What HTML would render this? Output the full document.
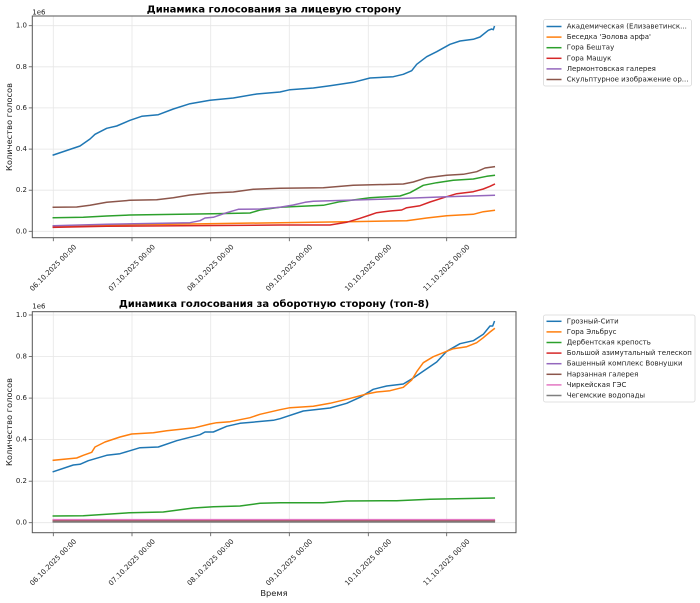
<!DOCTYPE html>
<html><head><meta charset="utf-8"><style>
html,body{margin:0;padding:0;background:#fff;}
svg{display:block;}
text{font-family:"DejaVu Sans","Liberation Sans",sans-serif;fill:#222;}
.tk{font-size:7px;}
.lg{font-size:7px;}
.lab{font-size:8.3px;}
.ttl{font-size:10px;font-weight:bold;fill:#000;}
.grid{stroke:#e6e6e6;stroke-width:0.8;}
.sp{stroke:#555;stroke-width:1;fill:none;}
.tm{stroke:#555;stroke-width:0.8;}
.ln{fill:none;stroke-width:1.5;stroke-linejoin:round;stroke-linecap:square;}
</style></head><body>
<svg width="700" height="603" viewBox="0 0 700 603" xmlns="http://www.w3.org/2000/svg">
<rect x="0" y="0" width="700" height="603" fill="#fff"/>

<!-- ============ TOP CHART ============ -->
<g>
<g class="grid">
<line x1="53.3" y1="16" x2="53.3" y2="237.7"/>
<line x1="132" y1="16" x2="132" y2="237.7"/>
<line x1="210.7" y1="16" x2="210.7" y2="237.7"/>
<line x1="289.3" y1="16" x2="289.3" y2="237.7"/>
<line x1="368.3" y1="16" x2="368.3" y2="237.7"/>
<line x1="446.7" y1="16" x2="446.7" y2="237.7"/>
<line x1="32.3" y1="231.3" x2="516" y2="231.3"/>
<line x1="32.3" y1="190.2" x2="516" y2="190.2"/>
<line x1="32.3" y1="149.1" x2="516" y2="149.1"/>
<line x1="32.3" y1="107.9" x2="516" y2="107.9"/>
<line x1="32.3" y1="66.8" x2="516" y2="66.8"/>
<line x1="32.3" y1="25.7" x2="516" y2="25.7"/>
</g>
<polyline class="ln" stroke="#1f77b4" points="53.3,155 80,146 90,139 95,134.3 106.7,128.3 116.7,126 130,120.3 141.7,116.3 158.3,114.7 173.3,109 190,103.7 210,100.3 233.3,98 256.7,94 280,92 290,89.7 313.3,88 330,85.7 353.3,82.3 370,78 393.3,76.7 403.3,74.3 411.7,70.7 416.7,64.3 426.7,56.7 436.7,51.7 450,44.3 460,41 473.3,39.3 480,37 488.3,30.3 491.7,29 493.3,29.7 494.3,26.7"/>
<polyline class="ln" stroke="#ff7f0e" points="53.3,226.3 106.7,225 190,224 280,222.7 346.7,221.7 406.7,220.7 426.7,218 446.7,215.7 473.3,214.3 483.3,211.7 494.3,210.3"/>
<polyline class="ln" stroke="#2ca02c" points="53.3,217.7 83.3,217.3 106.7,216 130,215 180,214.3 213.3,213.7 250,213 260,210 280,207.3 323.3,205.3 340,201.7 370,197.7 400,196 410,192.7 423.3,185.3 436.7,182.7 453.3,180.3 473.3,179 486.7,176.3 494.3,175.3"/>
<polyline class="ln" stroke="#d62728" points="53.3,227.3 106.7,226.3 280,225 330,225 346.7,222.3 360,218.3 370,215 376.7,212.7 390,211 401.7,210 406.7,207.7 420,205.7 430,202 446.7,196.7 456.7,193.7 473.3,191.7 483.3,189 490,186.3 494.3,184.3"/>
<polyline class="ln" stroke="#9467bd" points="53.3,225.7 106.7,224.3 190,222.7 200,220.7 205,218 213.3,217.3 226.7,212.7 238.3,209.3 260,209 280,207.3 293.3,205 305,202.3 313.3,201.3 380,199.3 420,197.7 446.7,196.7 494.3,195.3"/>
<polyline class="ln" stroke="#8c564b" points="53.3,207.3 76.7,207 90,205.3 106.7,202.3 130,200.3 156.7,199.7 173.3,197.7 190,195 210,193 233.3,192 253.3,189.3 280,188.3 323.3,187.7 353.3,185.3 403.3,184 413.3,182 426.7,177.7 446.7,175.3 463.3,174.3 476.7,171.7 485,168 494.3,166.7"/>
<rect class="sp" x="32.3" y="16" width="483.7" height="221.7"/>
<g class="tm">
<line x1="28.8" y1="231.3" x2="32.3" y2="231.3"/>
<line x1="28.8" y1="190.2" x2="32.3" y2="190.2"/>
<line x1="28.8" y1="149.1" x2="32.3" y2="149.1"/>
<line x1="28.8" y1="107.9" x2="32.3" y2="107.9"/>
<line x1="28.8" y1="66.8" x2="32.3" y2="66.8"/>
<line x1="28.8" y1="25.7" x2="32.3" y2="25.7"/>
<line x1="53.3" y1="237.7" x2="53.3" y2="241.2"/>
<line x1="132" y1="237.7" x2="132" y2="241.2"/>
<line x1="210.7" y1="237.7" x2="210.7" y2="241.2"/>
<line x1="289.3" y1="237.7" x2="289.3" y2="241.2"/>
<line x1="368.3" y1="237.7" x2="368.3" y2="241.2"/>
<line x1="446.7" y1="237.7" x2="446.7" y2="241.2"/>
</g>
<g class="tk" text-anchor="end" dominant-baseline="central">
<text x="27" y="231.3">0.0</text>
<text x="27" y="190.2">0.2</text>
<text x="27" y="149.1">0.4</text>
<text x="27" y="107.9">0.6</text>
<text x="27" y="66.8">0.8</text>
<text x="27" y="25.7">1.0</text>
</g>
<text class="tk" x="32.3" y="14.7">1e6</text>
<g class="tk" text-anchor="middle" dominant-baseline="central">
<text x="53.3" y="268" transform="rotate(-45 53.3 268)">06.10.2025 00:00</text>
<text x="132" y="268" transform="rotate(-45 132 268)">07.10.2025 00:00</text>
<text x="210.7" y="268" transform="rotate(-45 210.7 268)">08.10.2025 00:00</text>
<text x="289.3" y="268" transform="rotate(-45 289.3 268)">09.10.2025 00:00</text>
<text x="368.3" y="268" transform="rotate(-45 368.3 268)">10.10.2025 00:00</text>
<text x="446.7" y="268" transform="rotate(-45 446.7 268)">11.10.2025 00:00</text>
</g>
<text class="lab" x="9" y="127" text-anchor="middle" dominant-baseline="central" transform="rotate(-90 9 127)">Количество голосов</text>
<text class="ttl" x="274" y="12.7" text-anchor="middle">Динамика голосования за лицевую сторону</text>
<rect x="543.5" y="19.5" width="148" height="66.5" rx="2" ry="2" fill="#fff" stroke="#d9d9d9" stroke-width="0.8"/>
<g stroke-width="1.5">
<line x1="546.5" y1="26.5" x2="561.5" y2="26.5" stroke="#1f77b4"/>
<line x1="546.5" y1="37.1" x2="561.5" y2="37.1" stroke="#ff7f0e"/>
<line x1="546.5" y1="47.7" x2="561.5" y2="47.7" stroke="#2ca02c"/>
<line x1="546.5" y1="58.3" x2="561.5" y2="58.3" stroke="#d62728"/>
<line x1="546.5" y1="68.9" x2="561.5" y2="68.9" stroke="#9467bd"/>
<line x1="546.5" y1="79.5" x2="561.5" y2="79.5" stroke="#8c564b"/>
</g>
<g class="lg" dominant-baseline="central">
<text x="566.7" y="26.5">Академическая (Елизаветинск...</text>
<text x="566.7" y="37.1">Беседка 'Эолова арфа'</text>
<text x="566.7" y="47.7">Гора Бештау</text>
<text x="566.7" y="58.3">Гора Машук</text>
<text x="566.7" y="68.9">Лермонтовская галерея</text>
<text x="566.7" y="79.5">Скульптурное изображение ор...</text>
</g>
</g>

<!-- ============ BOTTOM CHART ============ -->
<g>
<g class="grid">
<line x1="53.3" y1="311.7" x2="53.3" y2="532.7"/>
<line x1="132" y1="311.7" x2="132" y2="532.7"/>
<line x1="210.7" y1="311.7" x2="210.7" y2="532.7"/>
<line x1="289.3" y1="311.7" x2="289.3" y2="532.7"/>
<line x1="368.3" y1="311.7" x2="368.3" y2="532.7"/>
<line x1="446.7" y1="311.7" x2="446.7" y2="532.7"/>
<line x1="32.3" y1="522.7" x2="516" y2="522.7"/>
<line x1="32.3" y1="481.2" x2="516" y2="481.2"/>
<line x1="32.3" y1="439.6" x2="516" y2="439.6"/>
<line x1="32.3" y1="398.1" x2="516" y2="398.1"/>
<line x1="32.3" y1="356.5" x2="516" y2="356.5"/>
<line x1="32.3" y1="315" x2="516" y2="315"/>
</g>
<polyline class="ln" stroke="#1f77b4" points="53.3,471.7 73.3,465 80,464.3 88.3,460.7 106.7,455.3 120,453.7 140,447.7 158.3,447 176.7,440.7 200,434.7 205,432 213.3,432 226.7,426.3 240,423.3 273.3,420.3 280,418.7 303.3,411 330,408 346.7,403.3 360,397.3 373.3,389.3 386.7,386 403.3,384 413.3,378 436.7,362 446.7,351.3 460,343.7 473.3,340.7 483.3,334.3 490,326 492.7,326 494.3,321.7"/>
<polyline class="ln" stroke="#ff7f0e" points="53.3,460.3 76.7,458 83.3,455.3 91.7,452.3 95,447 105,442 120,437 131.7,434 153.3,432.7 166.7,430.7 195,427.7 210,424 216.7,422.7 230,421.7 250,417.7 260,414.3 280,409.7 290,407.7 313.3,406.3 330,403.3 346.7,399.3 366.7,394 376.7,392 390,390.7 403.3,387.3 411.7,380 416.7,371.7 423.3,362.7 433.3,356.7 446.7,351.3 453.3,348.7 466.7,346.7 476.7,342.7 483.3,337.7 490,332 494.3,328.7"/>
<polyline class="ln" stroke="#2ca02c" points="53.3,516 83.3,515.7 106.7,514.3 130,512.7 163.3,512 193.3,508 213.3,506.7 240,506 260,503.3 280,502.7 323.3,502.7 346.7,501 396.7,500.7 430,499.3 494.3,498"/>
<polyline class="ln" stroke="#d62728" points="53.3,520.3 494.3,520.3"/>
<polyline class="ln" stroke="#9467bd" points="53.3,521.5 494.3,521.5"/>
<polyline class="ln" stroke="#8c564b" points="53.3,521 494.3,521"/>
<polyline class="ln" stroke="#e377c2" points="53.3,519.6 494.3,519.6"/>
<polyline class="ln" stroke="#7f7f7f" points="53.3,522 494.3,522"/>
<rect class="sp" x="32.3" y="311.7" width="483.7" height="221"/>
<g class="tm">
<line x1="28.8" y1="522.7" x2="32.3" y2="522.7"/>
<line x1="28.8" y1="481.2" x2="32.3" y2="481.2"/>
<line x1="28.8" y1="439.6" x2="32.3" y2="439.6"/>
<line x1="28.8" y1="398.1" x2="32.3" y2="398.1"/>
<line x1="28.8" y1="356.5" x2="32.3" y2="356.5"/>
<line x1="28.8" y1="315" x2="32.3" y2="315"/>
<line x1="53.3" y1="532.7" x2="53.3" y2="536.2"/>
<line x1="132" y1="532.7" x2="132" y2="536.2"/>
<line x1="210.7" y1="532.7" x2="210.7" y2="536.2"/>
<line x1="289.3" y1="532.7" x2="289.3" y2="536.2"/>
<line x1="368.3" y1="532.7" x2="368.3" y2="536.2"/>
<line x1="446.7" y1="532.7" x2="446.7" y2="536.2"/>
</g>
<g class="tk" text-anchor="end" dominant-baseline="central">
<text x="27" y="522.7">0.0</text>
<text x="27" y="481.2">0.2</text>
<text x="27" y="439.6">0.4</text>
<text x="27" y="398.1">0.6</text>
<text x="27" y="356.5">0.8</text>
<text x="27" y="315">1.0</text>
</g>
<text class="tk" x="32.3" y="308.7">1e6</text>
<g class="tk" text-anchor="middle" dominant-baseline="central">
<text x="53.3" y="562.5" transform="rotate(-45 53.3 562.5)">06.10.2025 00:00</text>
<text x="132" y="562.5" transform="rotate(-45 132 562.5)">07.10.2025 00:00</text>
<text x="210.7" y="562.5" transform="rotate(-45 210.7 562.5)">08.10.2025 00:00</text>
<text x="289.3" y="562.5" transform="rotate(-45 289.3 562.5)">09.10.2025 00:00</text>
<text x="368.3" y="562.5" transform="rotate(-45 368.3 562.5)">10.10.2025 00:00</text>
<text x="446.7" y="562.5" transform="rotate(-45 446.7 562.5)">11.10.2025 00:00</text>
</g>
<text class="lab" x="9" y="422" text-anchor="middle" dominant-baseline="central" transform="rotate(-90 9 422)">Количество голосов</text>
<text class="lab" x="274" y="593" text-anchor="middle" dominant-baseline="central">Время</text>
<text class="ttl" x="274" y="307" text-anchor="middle">Динамика голосования за оборотную сторону (топ-8)</text>
<rect x="543.5" y="315" width="151.5" height="87" rx="2" ry="2" fill="#fff" stroke="#d9d9d9" stroke-width="0.8"/>
<g stroke-width="1.5">
<line x1="546.5" y1="321.3" x2="561.5" y2="321.3" stroke="#1f77b4"/>
<line x1="546.5" y1="331.9" x2="561.5" y2="331.9" stroke="#ff7f0e"/>
<line x1="546.5" y1="342.5" x2="561.5" y2="342.5" stroke="#2ca02c"/>
<line x1="546.5" y1="353.1" x2="561.5" y2="353.1" stroke="#d62728"/>
<line x1="546.5" y1="363.7" x2="561.5" y2="363.7" stroke="#9467bd"/>
<line x1="546.5" y1="374.3" x2="561.5" y2="374.3" stroke="#8c564b"/>
<line x1="546.5" y1="384.9" x2="561.5" y2="384.9" stroke="#e377c2"/>
<line x1="546.5" y1="395.5" x2="561.5" y2="395.5" stroke="#7f7f7f"/>
</g>
<g class="lg" dominant-baseline="central">
<text x="566.7" y="321.3">Грозный-Сити</text>
<text x="566.7" y="331.9">Гора Эльбрус</text>
<text x="566.7" y="342.5">Дербентская крепость</text>
<text x="566.7" y="353.1">Большой азимутальный телескоп</text>
<text x="566.7" y="363.7">Башенный комплекс Вовнушки</text>
<text x="566.7" y="374.3">Нарзанная галерея</text>
<text x="566.7" y="384.9">Чиркейская ГЭС</text>
<text x="566.7" y="395.5">Чегемские водопады</text>
</g>
</g>
</svg>
</body></html>
